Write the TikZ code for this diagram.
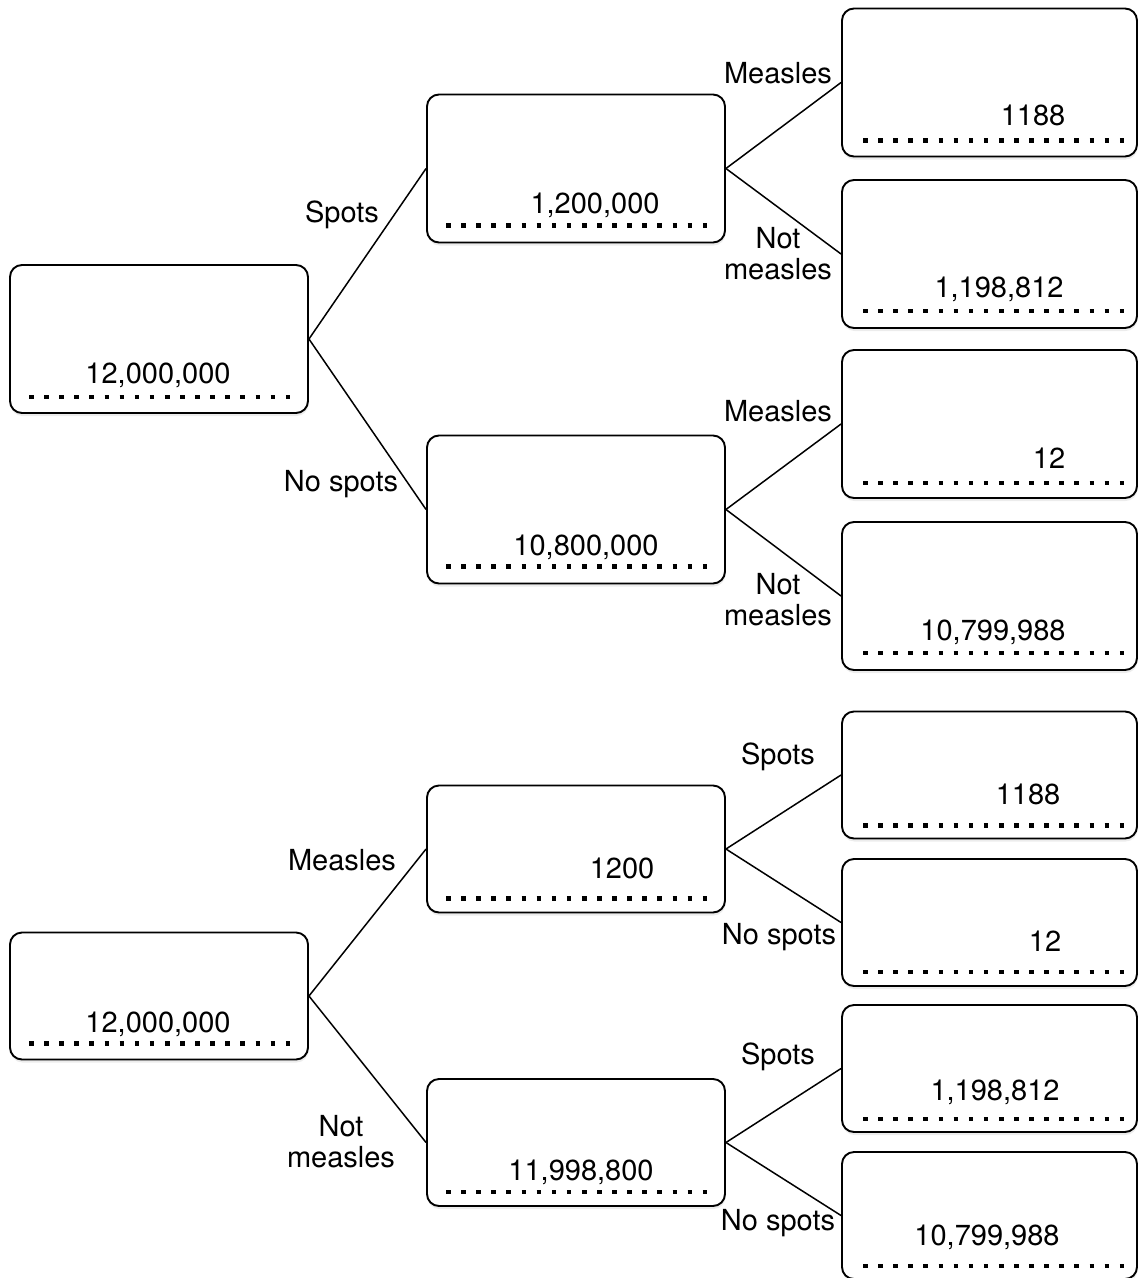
\documentclass[tikz,border=0pt]{standalone}
\usepackage{fontspec}
\setmainfont{TeX Gyre Heros}
\usetikzlibrary{shadows}

\tikzset{
    box/.style={draw, line width=1.9pt, rounded corners=12pt, fill=white,
        minimum width=298pt, minimum height=148pt, inner sep=0pt,
        drop shadow={shadow xshift=0.5pt, shadow yshift=-3pt, opacity=0.15}},
    lowbox/.style={box, minimum height=127pt},
    leafbox/.style={box, minimum width=295pt},
    lowleaf/.style={leafbox, minimum height=127pt},
    num/.style={anchor=base, inner sep=0pt, font=\fontsize{29}{31}\selectfont},
    lbl/.style={align=center, inner sep=0pt, font=\fontsize{29}{31}\selectfont},
    edge/.style={line width=1.5pt},
    dotrule/.style={line width=4.6pt, dash pattern=on 4.6pt off 10.5pt}
}

\begin{document}
\begin{tikzpicture}[x=1pt, y=-1pt]
    \useasboundingbox (0,0) rectangle (1138,1278);

    % spots first
    \node[box] (rootA) at (159,339) {};
    \node[box] (sA) at (576,168.5) {};
    \node[box] (nA) at (576,509.5) {};
    \node[leafbox] (smA) at (989.5,82.5) {};
    \node[leafbox] (snA) at (989.5,254) {};
    \node[leafbox] (nmA) at (989.5,424) {};
    \node[leafbox] (nnA) at (989.5,596) {};

    \draw[edge] (rootA.east) -- (sA.west);
    \draw[edge] (rootA.east) -- (nA.west);
    \draw[edge] (sA.east) -- (smA.west);
    \draw[edge] (sA.east) -- (snA.west);
    \draw[edge] (nA.east) -- (nmA.west);
    \draw[edge] (nA.east) -- (nnA.west);

    \node[lbl] (lsA) at (342,215) {Spots};
    \node[lbl] (lnA) at (341,484) {No spots};
    \node[lbl] (lsmA) at (778,73) {Measles};
    \node[lbl] (lsnA) at (778,254) {Not\\measles};
    \node[lbl] (lnmA) at (778,411) {Measles};
    \node[lbl] (lnnA) at (778,600) {Not\\measles};

    \node[num] (rootAn) at (158,383) {12,000,000};
    \node[num] (sAn) at (595,213) {1,200,000};
    \node[num] (nAn) at (586,555) {10,800,000};
    \node[num] (smAn) at (1033,125) {1188};
    \node[num] (snAn) at (999,297) {1,198,812};
    \node[num] (nmAn) at (1049,468) {12};
    \node[num] (nnAn) at (993,640) {10,799,988};

    \draw[dotrule] ([shift={(20,-17)}]rootA.south west) -- ++(262,0);
    \draw[dotrule] ([shift={(20,-18)}]sA.south west) -- ++(262,0);
    \draw[dotrule] ([shift={(20,-18)}]nA.south west) -- ++(262,0);
    \draw[dotrule] ([shift={(22,-17)}]smA.south west) -- ++(262,0);
    \draw[dotrule] ([shift={(22,-18)}]snA.south west) -- ++(262,0);
    \draw[dotrule] ([shift={(22,-16)}]nmA.south west) -- ++(262,0);
    \draw[dotrule] ([shift={(22,-18)}]nnA.south west) -- ++(262,0);

    % measles first
    \node[lowbox] (rootB) at (159,996) {};
    \node[lowbox] (mB) at (576,849) {};
    \node[lowbox] (nB) at (576,1142.5) {};
    \node[lowleaf] (msB) at (989.5,775) {};
    \node[lowleaf] (mnB) at (989.5,922.5) {};
    \node[lowleaf] (nsB) at (989.5,1068.5) {};
    \node[lowleaf] (nnB) at (989.5,1215.5) {};

    \draw[edge] (rootB.east) -- (mB.west);
    \draw[edge] (rootB.east) -- (nB.west);
    \draw[edge] (mB.east) -- (msB.west);
    \draw[edge] (mB.east) -- (mnB.west);
    \draw[edge] (nB.east) -- (nsB.west);
    \draw[edge] (nB.east) -- (nnB.west);

    \node[lbl] (lmB) at (342,860) {Measles};
    \node[lbl] (lnB) at (341,1142) {Not\\measles};
    \node[lbl] (lmsB) at (778,757) {Spots};
    \node[lbl] (lmnB) at (779,937) {No spots};
    \node[lbl] (lnsB) at (778,1057) {Spots};
    \node[lbl] (lnnB) at (778,1223) {No spots};

    \node[num] (rootBn) at (158,1032) {12,000,000};
    \node[num] (mBn) at (622,878) {1200};
    \node[num] (nBn) at (581,1180) {11,998,800};
    \node[num] (msBn) at (1028,804) {1188};
    \node[num] (mnBn) at (1045,951) {12};
    \node[num] (nsBn) at (995,1100) {1,198,812};
    \node[num] (nnBn) at (987,1245) {10,799,988};

    \draw[dotrule] ([shift={(20,-17)}]rootB.south west) -- ++(262,0);
    \draw[dotrule] ([shift={(20,-15)}]mB.south west) -- ++(262,0);
    \draw[dotrule] ([shift={(20,-15)}]nB.south west) -- ++(262,0);
    \draw[dotrule] ([shift={(22,-14)}]msB.south west) -- ++(262,0);
    \draw[dotrule] ([shift={(22,-15)}]mnB.south west) -- ++(262,0);
    \draw[dotrule] ([shift={(22,-14)}]nsB.south west) -- ++(262,0);
    \draw[dotrule] ([shift={(22,-14)}]nnB.south west) -- ++(262,0);
\end{tikzpicture}
\end{document}
